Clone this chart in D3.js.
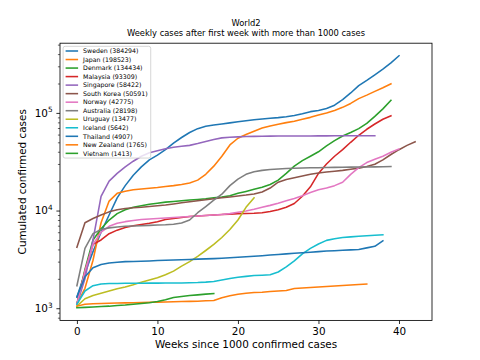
<!DOCTYPE html>
<html>
<head>
<meta charset="utf-8">
<script src="https://cdn.jsdelivr.net/npm/d3@7"></script>
<style>
html,body{margin:0;padding:0;background:#fff;}
text{font-family:"DejaVu Sans",sans-serif;fill:#000;}
</style>
</head>
<body>
<svg id="chart" width="480" height="360"></svg>
<script>
// ---- data (weekly cumulated cases, starting with first week > 1000 cases) ----
const titleMain = "World2";
const titleSub = "Weekly cases after first week with more than 1000 cases";
const xLabel = "Weeks since 1000 confirmed cases";
const yLabel = "Cumulated confirmed cases";
const xTicks = [0, 10, 20, 30, 40];
const yTicks = [1e3, 1e4, 1e5];

const countries = ["Sweden","Japan","Denmark","Malaysia","Singapore","South Korea","Norway","Australia","Uruguay","Iceland","Thailand","New Zealand","Vietnam"];
const colors = ["#1f77b4","#ff7f0e","#2ca02c","#d62728","#9467bd","#8c564b","#e377c2","#7f7f7f","#bcbd22","#17becf","#1f77b4","#ff7f0e","#2ca02c"];

const sweden = [1300,2300,3800,6000,9000,13500,18000,23000,28000,33000,37000,42000,49000,56000,63000,69000,73000,75000,77000,79000,81000,83000,85000,86500,88000,89500,91500,94000,98000,103000,106000,111000,120000,137000,160000,190000,215000,245000,280000,325000,384294];
const japan = [1100,1600,3100,7500,12500,15000,15800,16300,16600,16900,17200,17600,18000,18500,19200,20500,23500,28500,36000,47000,55000,60000,65000,70000,73500,76500,79500,82000,86000,90000,95000,100000,106000,114000,125000,140000,152000,166000,181000,198523];
const denmark = [1100,2500,5000,6500,8000,9300,10200,10800,11200,11600,11900,12200,12400,12600,12800,13000,13200,13500,13800,14200,15000,15700,16500,17300,18500,20500,24000,28500,32500,36000,40000,46000,52000,58000,63000,69000,78000,92000,110000,134434];
const malaysia = [1100,2400,4500,5000,5800,6300,6700,7000,7200,7400,7700,8100,8300,8500,8700,8800,8900,9000,9100,9200,9300,9350,9400,9500,9800,10200,10800,11800,14000,17500,24000,30000,36000,42000,50000,59000,68000,77000,86000,93309];
const singapore = [1100,2000,5000,14000,20000,24000,28000,32000,36000,39000,41000,43000,44500,45500,46500,48500,51000,53500,55500,56300,56800,57200,57500,57700,57800,57900,57950,58000,58050,58100,58150,58200,58250,58300,58340,58370,58400,58422];
const southKorea = [4200,7500,8300,9000,9700,10200,10500,10700,10800,11000,11200,11400,11700,12000,12300,12600,12900,13200,13500,13800,14100,14400,14800,15500,17000,19500,20800,21700,22600,23500,24200,24800,25300,25800,26500,27200,28300,29800,33000,37500,42000,46500,50591];
const norway = [1100,2400,4500,6000,6900,7400,7700,7900,8100,8200,8300,8400,8500,8600,8700,8800,8900,9000,9100,9300,9600,9900,10300,10800,11300,11900,12600,13300,14200,15300,16300,17000,18000,19500,23500,27500,31000,33500,36000,39500,42775];
const australia = [1700,4100,5800,6400,6650,6800,6900,6950,7000,7050,7100,7150,7250,7450,8000,9500,11000,12800,14700,18000,21000,23500,25000,25800,26300,26600,26900,27100,27300,27400,27500,27600,27700,27800,27850,27900,27950,28000,28100,28198];
const uruguay = [1050,1250,1350,1420,1500,1580,1650,1740,1850,1950,2050,2200,2400,2700,3000,3400,3900,4500,5300,6400,8000,10800,13477];
const iceland = [1100,1500,1700,1770,1790,1795,1800,1802,1805,1806,1807,1810,1812,1815,1820,1830,1850,1880,1950,2020,2080,2120,2160,2180,2200,2350,2650,3050,3600,4100,4550,4950,5150,5300,5380,5450,5520,5580,5642];
const thailand = [1300,2100,2600,2800,2900,2950,3000,3010,3030,3050,3080,3100,3120,3140,3160,3180,3200,3220,3250,3280,3320,3360,3400,3450,3500,3550,3600,3650,3700,3750,3800,3850,3880,3920,3960,4000,4150,4300,4907];
const newZealand = [1050,1100,1110,1120,1125,1130,1135,1140,1145,1150,1155,1160,1165,1170,1175,1180,1190,1200,1280,1340,1390,1420,1450,1460,1480,1500,1520,1590,1610,1630,1650,1670,1690,1710,1730,1750,1765];
const vietnam = [1010,1020,1030,1040,1050,1065,1080,1100,1120,1140,1170,1220,1290,1320,1350,1370,1395,1413];

const seriesValues = [sweden,japan,denmark,malaysia,singapore,southKorea,norway,australia,uruguay,iceland,thailand,newZealand,vietnam];
const series = countries.map((name,i)=>({name, color: colors[i], values: seriesValues[i]}));

// ---- layout (matplotlib 6.4x4.8in @75dpi) ----
const W = 480, H = 360;
const L = 60, R = 432, T = 43.2, B = 320.4;
const svg = d3.select("#chart");
svg.append("rect").attr("width",W).attr("height",H).attr("fill","#fff");

// scales with 5% margins (log space for y)
const xMax = d3.max(series, s => s.values.length - 1);
const xm = 0.05 * xMax;
const x = d3.scaleLinear().domain([0 - xm, xMax + xm]).range([L, R]);
const allVals = series.flatMap(s => s.values);
const lmin = Math.log10(d3.min(allVals)), lmax = Math.log10(d3.max(allVals));
const lm = 0.05 * (lmax - lmin);
const y = d3.scaleLog().domain([Math.pow(10, lmin - lm), Math.pow(10, lmax + lm)]).range([B, T]);

// lines
const line = d3.line().x((d,i)=>x(i)).y(d=>y(d));
const gLines = svg.append("g");
series.forEach(s => {
  gLines.append("path").datum(s.values).attr("d", line)
    .attr("fill","none").attr("stroke", s.color).attr("stroke-width",1.56)
    .attr("stroke-linejoin","round").attr("stroke-linecap","square");
});

// axes frame
svg.append("rect").attr("x",L).attr("y",T).attr("width",R-L).attr("height",B-T)
  .attr("fill","none").attr("stroke","#000").attr("stroke-width",0.83);

// x axis
const xAxis = d3.axisBottom(x).tickValues(xTicks).tickSize(3.6).tickPadding(3.4).tickFormat(d3.format("d"));
const gx = svg.append("g").attr("transform",`translate(0,${B})`).call(xAxis);
gx.select(".domain").remove();
gx.selectAll(".tick line").attr("stroke","#000").attr("stroke-width",0.83);
gx.selectAll(".tick text").attr("font-size","10.4px").attr("font-family","DejaVu Sans").attr("fill","#000");

// y axis: major ticks
const [d0, d1] = y.domain();
const minorTicks = [];
for (let e = Math.floor(Math.log10(d0)); e <= Math.ceil(Math.log10(d1)); e++) {
  for (let m = 2; m <= 9; m++) {
    const v = m * Math.pow(10, e);
    if (v >= d0 && v <= d1) minorTicks.push(v);
  }
}
const yAxisMinor = d3.axisLeft(y).tickValues(minorTicks).tickSize(2.1).tickFormat("");
const gyMinor = svg.append("g").attr("transform",`translate(${L},0)`).call(yAxisMinor);
gyMinor.select(".domain").remove();
gyMinor.selectAll(".tick line").attr("stroke","#000").attr("stroke-width",0.6);

const yAxis = d3.axisLeft(y).tickValues(yTicks).tickSize(3.6).tickFormat("");
const gy = svg.append("g").attr("transform",`translate(${L},0)`).call(yAxis);
gy.select(".domain").remove();
gy.selectAll(".tick line").attr("stroke","#000").attr("stroke-width",0.83);
yTicks.forEach(v => {
  const e = Math.round(Math.log10(v));
  const t = svg.append("text").attr("text-anchor","end")
    .attr("x", L - 7.4).attr("y", y(v) + 3.8).attr("font-size","10.4px");
  t.append("tspan").text("10");
  t.append("tspan").attr("font-size","7.3px").attr("dy",-4.4).text(String(e));
});

// labels
svg.append("text").attr("x",(L+R)/2).attr("y",347.5).attr("text-anchor","middle")
  .attr("font-size","10.4px").text(xLabel);
svg.append("text").attr("transform",`translate(26,${(T+B)/2}) rotate(-90)`)
  .attr("text-anchor","middle").attr("font-size","10.4px").text(yLabel);

// title
svg.append("text").attr("x",(L+R)/2).attr("y",26.3).attr("text-anchor","middle")
  .attr("font-size","8.33px").text(titleMain);
svg.append("text").attr("x",(L+R)/2).attr("y",36).attr("text-anchor","middle")
  .attr("font-size","8.33px").text(titleSub);

// legend
const lg = svg.append("g");
const fx = L + 3.1, fy = T + 3.1;
const rowH = 8.53, firstRow = 4.7;
const frame = lg.append("rect").attr("x",fx).attr("y",fy).attr("rx",2).attr("ry",2)
  .attr("fill","#fff").attr("fill-opacity",0.8).attr("stroke","#cccccc").attr("stroke-width",0.83);
let maxW = 0;
series.forEach((s,i) => {
  const cy = fy + firstRow + i*rowH;
  lg.append("line").attr("x1",fx+2.5).attr("x2",fx+15).attr("y1",cy).attr("y2",cy)
    .attr("stroke",s.color).attr("stroke-width",1.56);
  const t = lg.append("text").attr("x",fx+20).attr("y",cy+2.2).attr("font-size","6.25px")
    .text(`${s.name} (${s.values[s.values.length-1]})`);
  maxW = Math.max(maxW, t.node().getComputedTextLength());
});
frame.attr("width", 20 + maxW + 3).attr("height", firstRow*2 + rowH*(series.length-1));
</script>
</body>
</html>
